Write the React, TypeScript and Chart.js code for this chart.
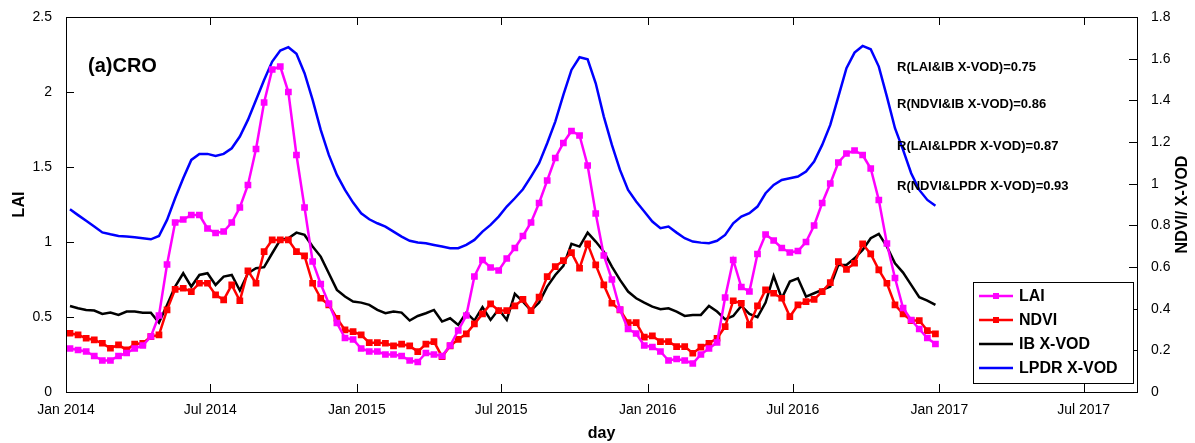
import React, { useEffect, useRef } from "react";
import { Chart, registerables } from "chart.js";
Chart.register(...registerables);

const tickDays = [0, 181, 365, 546, 730, 912, 1096, 1277];
const tickLabels = ["Jan 2014", "Jul 2014", "Jan 2015", "Jul 2015", "Jan 2016", "Jul 2016", "Jan 2017", "Jul 2017"];

const lai = [0.29,0.28,0.27,0.24,0.21,0.21,0.24,0.26,0.29,0.31,0.37,0.51,0.85,1.13,1.15,1.18,1.18,1.09,1.06,1.07,1.13,1.23,1.38,1.62,1.93,2.15,2.17,2.00,1.58,1.23,0.87,0.72,0.59,0.46,0.36,0.35,0.29,0.27,0.27,
0.25,0.25,0.24,0.21,0.20,0.26,0.25,0.24,0.31,0.41,0.51,0.77,0.88,0.83,0.81,0.89,0.96,1.04,1.13,1.26,1.41,1.56,1.66,1.74,1.71,1.51,1.19,0.91,0.75,0.55,0.42,0.39,0.31,0.30,0.27,
0.21,0.22,0.21,0.19,0.25,0.29,0.33,0.63,0.88,0.70,0.67,0.92,1.05,1.01,0.96,0.93,0.94,1.00,1.11,1.26,1.39,1.53,1.59,1.61,1.58,1.49,1.28,0.99,0.76,0.56,0.48,0.42,0.36,0.32];

const ndvi = [0.282,0.274,0.258,0.250,0.234,0.210,0.226,0.202,0.230,0.234,0.266,0.274,0.394,0.493,0.498,0.482,0.522,0.522,0.466,0.442,0.514,0.438,0.582,0.522,0.674,0.730,0.730,0.730,0.674,0.653,0.522,0.450,0.418,0.354,0.298,0.290,0.274,0.237,0.237,
0.234,0.221,0.230,0.221,0.194,0.230,0.242,0.170,0.221,0.253,0.279,0.327,0.375,0.423,0.391,0.391,0.413,0.445,0.391,0.455,0.554,0.602,0.631,0.669,0.594,0.711,0.610,0.514,0.426,0.394,0.333,0.333,0.263,0.269,0.242,
0.242,0.218,0.218,0.186,0.215,0.234,0.258,0.314,0.438,0.426,0.322,0.413,0.490,0.474,0.450,0.362,0.418,0.434,0.445,0.482,0.525,0.626,0.589,0.618,0.711,0.663,0.586,0.522,0.418,0.375,0.343,0.343,0.295,0.279];

const ibVod = [0.413,0.402,0.394,0.391,0.375,0.381,0.370,0.386,0.386,0.381,0.381,0.333,0.418,0.506,0.570,0.506,0.562,0.570,0.514,0.554,0.562,0.487,0.570,0.594,0.599,0.666,0.730,0.738,0.765,0.754,0.698,0.650,0.570,0.490,0.458,0.434,0.429,0.418,0.394,
0.378,0.386,0.381,0.343,0.365,0.378,0.394,0.338,0.354,0.322,0.381,0.343,0.407,0.346,0.397,0.346,0.471,0.434,0.391,0.429,0.506,0.562,0.605,0.711,0.698,0.765,0.722,0.674,0.602,0.538,0.482,0.450,0.429,0.410,0.397,
0.402,0.386,0.365,0.370,0.370,0.413,0.386,0.349,0.365,0.413,0.375,0.359,0.429,0.557,0.450,0.530,0.546,0.458,0.474,0.490,0.506,0.610,0.610,0.642,0.682,0.738,0.759,0.698,0.618,0.573,0.514,0.455,0.439,0.418];

const lpdrVod = [0.877,0.849,0.822,0.794,0.766,0.757,0.749,0.746,0.743,0.738,0.733,0.749,0.826,0.930,1.026,1.114,1.143,1.143,1.133,1.143,1.170,1.226,1.306,1.402,1.498,1.586,1.639,1.655,1.623,1.530,1.402,1.258,1.138,1.042,0.970,0.909,0.858,0.829,0.810,
0.794,0.770,0.746,0.726,0.718,0.714,0.706,0.698,0.690,0.690,0.706,0.730,0.770,0.802,0.842,0.890,0.930,0.973,1.034,1.098,1.194,1.298,1.426,1.546,1.607,1.597,1.482,1.322,1.186,1.066,0.970,0.914,0.866,0.818,0.786,
0.794,0.765,0.738,0.722,0.717,0.714,0.726,0.754,0.810,0.842,0.858,0.890,0.954,0.994,1.018,1.026,1.034,1.058,1.106,1.186,1.282,1.418,1.554,1.629,1.661,1.645,1.562,1.418,1.266,1.162,1.050,0.970,0.922,0.894];

const rTexts = ["R(LAI&IB X-VOD)=0.75", "R(NDVI&IB X-VOD)=0.86", "R(LAI&LPDR X-VOD)=0.87", "R(NDVI&LPDR X-VOD)=0.93"];

const FONT = "'Liberation Sans', Arial, sans-serif";
const toPts = (arr: number[]) => arr.map((v, i) => ({ x: 5 + i * 10.15, y: v }));

const framePlugin = {
  id: "frame",
  afterDraw(chart: any) {
    const { ctx, chartArea: a, scales } = chart;
    ctx.save();
    ctx.strokeStyle = "#000";
    ctx.lineWidth = 1;
    ctx.strokeRect(a.left + 0.5, a.top + 0.5, a.right - a.left, a.bottom - a.top);
    const L = 8;
    ctx.beginPath();
    scales.x.ticks.forEach((t: any) => {
      const px = Math.round(scales.x.getPixelForValue(t.value)) + 0.5;
      ctx.moveTo(px, a.bottom); ctx.lineTo(px, a.bottom - L);
      ctx.moveTo(px, a.top); ctx.lineTo(px, a.top + L);
    });
    scales.y.ticks.forEach((t: any) => {
      const py = Math.round(scales.y.getPixelForValue(t.value)) + 0.5;
      ctx.moveTo(a.left, py); ctx.lineTo(a.left + L, py);
    });
    scales.y1.ticks.forEach((t: any) => {
      const py = Math.round(scales.y1.getPixelForValue(t.value)) + 0.5;
      ctx.moveTo(a.right, py); ctx.lineTo(a.right - L, py);
    });
    ctx.stroke();
    ctx.fillStyle = "#000";
    ctx.textBaseline = "middle";
    // right axis title (bottom-to-top)
    ctx.save();
    ctx.translate(1183, (a.top + a.bottom) / 2);
    ctx.rotate(-Math.PI / 2);
    ctx.textAlign = "center";
    ctx.font = `bold 16px ${FONT}`;
    ctx.fillText("NDVI/ X-VOD", 0, 0);
    ctx.restore();
    ctx.font = `bold 20px ${FONT}`;
    ctx.fillText("(a)CRO", 88, 66);
    ctx.font = `bold 13px ${FONT}`;
    const ys = [67, 104, 146, 186];
    rTexts.forEach((t, i) => ctx.fillText(t, 897, ys[i]));
    // legend
    const bx = 973, by = 282, bw = 160, bh = 101;
    ctx.fillStyle = "#fff";
    ctx.fillRect(bx, by, bw, bh);
    ctx.strokeRect(bx + 0.5, by + 0.5, bw, bh);
    ctx.font = `bold 16px ${FONT}`;
    chart.data.datasets.forEach((d: any, i: number) => {
      const y = by + 14 + i * 24;
      ctx.strokeStyle = d.borderColor;
      ctx.lineWidth = 2.5;
      ctx.beginPath(); ctx.moveTo(bx + 6, y); ctx.lineTo(bx + 40, y); ctx.stroke();
      if (d.pointRadius > 0) {
        ctx.fillStyle = d.borderColor;
        ctx.fillRect(bx + 23 - 3, y - 3, 6, 6);
      }
      ctx.fillStyle = "#000";
      ctx.fillText(d.label, bx + 46, y + 1);
    });
    ctx.restore();
  },
};

export default function App() {
  const ref = useRef<HTMLCanvasElement>(null);
  useEffect(() => {
    document.body.style.margin = "0";
    const tickFont = { family: FONT, size: 14 };
    const chart = new Chart(ref.current!, {
      type: "line",
      data: {
        datasets: [
          { label: "LAI", data: toPts(lai), borderColor: "#ff00ff", backgroundColor: "#ff00ff", borderWidth: 2.5, pointStyle: "rect", pointRadius: 3, yAxisID: "y" },
          { label: "NDVI", data: toPts(ndvi), borderColor: "#ff0000", backgroundColor: "#ff0000", borderWidth: 2.5, pointStyle: "rect", pointRadius: 3, yAxisID: "y1" },
          { label: "IB X-VOD", data: toPts(ibVod), borderColor: "#000000", borderWidth: 2.5, pointRadius: 0, yAxisID: "y1" },
          { label: "LPDR X-VOD", data: toPts(lpdrVod), borderColor: "#0000ff", borderWidth: 2.5, pointRadius: 0, yAxisID: "y1" },
        ] as any,
      },
      options: {
        animation: false,
        responsive: false,
        layout: { padding: { top: 17, left: 0, right: 0, bottom: 0 } },
        plugins: { legend: { display: false }, tooltip: { enabled: false } },
        scales: {
          x: {
            type: "linear", min: 0, max: 1344,
            afterBuildTicks: (s: any) => { s.ticks = tickDays.map((v) => ({ value: v })); },
            afterFit: (s: any) => { s.height = 51; },
            ticks: { font: tickFont, color: "#000", maxRotation: 0, padding: 2, callback: (v: any) => tickLabels[tickDays.indexOf(v)] ?? "" },
            grid: { display: false }, border: { display: false },
            title: { display: true, text: "day", font: { family: FONT, size: 16, weight: "bold" }, color: "#000", padding: 0 },
          },
          y: {
            position: "left", min: 0, max: 2.5,
            afterBuildTicks: (s: any) => { s.ticks = [0, 0.5, 1, 1.5, 2, 2.5].map((v) => ({ value: v })); },
            afterFit: (s: any) => { s.width = 66; },
            ticks: { font: tickFont, color: "#000", padding: 6, callback: (v: any) => String(v) },
            grid: { display: false }, border: { display: false },
            title: { display: true, text: "LAI", font: { family: FONT, size: 16, weight: "bold" }, color: "#000", padding: { top: 10, bottom: 0 } },
          },
          y1: {
            position: "right", min: 0, max: 1.8,
            afterBuildTicks: (s: any) => { s.ticks = [0, 0.2, 0.4, 0.6, 0.8, 1, 1.2, 1.4, 1.6, 1.8].map((v) => ({ value: v })); },
            afterFit: (s: any) => { s.width = 58; },
            ticks: { font: tickFont, color: "#000", padding: 6, callback: (v: any) => String(Math.round(v * 10) / 10) },
            grid: { display: false }, border: { display: false },
            title: { display: false },
          },
        },
      } as any,
      plugins: [framePlugin],
    });
    return () => chart.destroy();
  }, []);
  return (
    <div style={{ width: 1195, height: 443, background: "#fff" }}>
      <canvas ref={ref} width={1195} height={443} />
    </div>
  );
}
